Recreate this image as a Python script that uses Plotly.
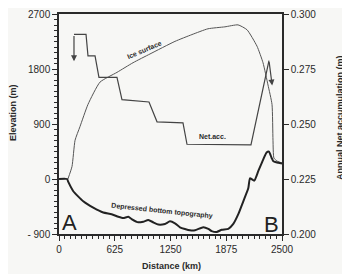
import plotly.graph_objects as go

# Ice surface (distance km, elevation m)
ice_x = [100, 146, 180, 235, 325, 460, 650, 830, 1020, 1300, 1490, 1670, 1860, 2007, 2108, 2220, 2287, 2343, 2388, 2399, 2410, 2450, 2500]
ice_y = [0, 206, 634, 856, 1221, 1586, 1745, 1903, 2046, 2252, 2363, 2458, 2490, 2522, 2442, 2173, 1903, 1538, 1221, 634, 340, 290, 262]

# Depressed bottom topography (distance km, elevation m)
bed_x = [0, 90, 104, 160, 272, 384, 496, 590, 665, 720, 777, 814, 889, 945, 1001, 1057, 1113, 1188, 1244, 1300, 1356, 1468, 1525, 1618, 1674, 1711, 1768, 1824, 1898, 1954, 2010, 2066, 2122, 2141, 2189, 2235, 2289, 2327, 2354, 2384, 2403, 2459, 2500]
bed_y = [0, 0, -48, -200, -365, -470, -549, -576, -618, -640, -618, -655, -709, -698, -672, -709, -745, -735, -693, -725, -790, -840, -840, -788, -815, -852, -868, -830, -815, -735, -576, -365, -153, 11, -27, 132, 317, 433, 449, 344, 290, 265, 254]

# Annual net accumulation (distance km, m)
acc_x = [168, 303, 325, 404, 448, 650, 706, 1009, 1099, 1390, 1435, 2152, 2354]
acc_y = [0.2907, 0.2907, 0.281, 0.281, 0.2712, 0.2712, 0.2611, 0.260, 0.251, 0.2505, 0.2408, 0.2405, 0.2788]
arrow_left = (168, 0.2907, 168, 0.2785)
arrow_right = (2354, 0.2788, 2390, 0.2675)

x_ticks = [0, 625, 1250, 1875, 2500]
x_ticktext = ["0", "625", "1250", "1875", "2500"]
y_ticks = [-900, 0, 900, 1800, 2700]
y_ticktext = ["- 900", "0", "900", "1800", "2700"]
y2_ticks = [0.200, 0.225, 0.250, 0.275, 0.300]
y2_ticktext = ["0.200", "0.225", "0.250", "0.275", "0.300"]

INK = "#2a2a2a"
BG = "#f7f7f5"
FONT = "Liberation Sans"

fig = go.Figure()
fig.add_trace(go.Scatter(x=ice_x, y=ice_y, mode="lines", line=dict(color="#555555", width=1, shape="spline", smoothing=0.5), hoverinfo="skip"))
fig.add_trace(go.Scatter(x=bed_x, y=bed_y, mode="lines", line=dict(color="#222222", width=2, shape="spline", smoothing=0.5), hoverinfo="skip"))
fig.add_trace(go.Scatter(x=acc_x, y=acc_y, mode="lines", yaxis="y2", line=dict(color="#444444", width=1.2), hoverinfo="skip"))

anns = []
for (x0, y0, x1, y1) in [arrow_left, arrow_right]:
    anns.append(dict(x=x1, y=y1, ax=x0, ay=y0, xref="x", yref="y2", axref="x", ayref="y2",
                     showarrow=True, arrowhead=2, arrowsize=1, arrowwidth=1.2, arrowcolor="#444444", text=""))

anns += [
    dict(x=964, y=2117, xref="x", yref="y", text="<b>Ice surface</b>", textangle=-23, showarrow=False,
         font=dict(family=FONT, size=7, color=INK)),
    dict(x=1726, y=700, xref="x", yref="y", text="<b>Net.acc.</b>", showarrow=False,
         font=dict(family=FONT, size=7, color=INK)),
    dict(x=1160, y=-531, xref="x", yref="y", text="<b>Depressed bottom topography</b>", textangle=6, showarrow=False,
         font=dict(family=FONT, size=7, color=INK)),
    dict(x=123, y=-714, xref="x", yref="y", text="A", showarrow=False,
         font=dict(family=FONT, size=22, color="#222222")),
    dict(x=2377, y=-745, xref="x", yref="y", text="B", showarrow=False,
         font=dict(family=FONT, size=22, color="#222222")),
    dict(x=13, y=113, xref="paper", yref="paper", text="<b>Elevation (m)</b>", textangle=-90, showarrow=False,
         font=dict(family=FONT, size=9, color=INK)),
    dict(x=340, y=118, xref="paper", yref="paper", text="<b>Annual Net accumulation (m)</b>", textangle=-90, showarrow=False,
         font=dict(family=FONT, size=9, color=INK)),
    dict(x=171, y=266, xref="paper", yref="paper", text="<b>Distance (km)</b>", showarrow=False,
         font=dict(family=FONT, size=9, color=INK)),
]

# page offset of the plot div (default body margin)
OFF = 8
W, H = 350 - OFF, 274 - OFF
L, T = 59 - OFF, 14 - OFF
PW, PH = 223, 220
R = W - L - PW
B = H - T - PH
for a in anns:
    if a.get("xref") == "paper":
        a["x"] = (a["x"] - OFF - L) / PW
        a["y"] = (T + PH - (a["y"] - OFF)) / PH
        a["xanchor"] = "center"
        a["yanchor"] = "middle"

fig.update_layout(
    width=W, height=H,
    margin=dict(l=L, r=R, t=T, b=B, autoexpand=False),
    paper_bgcolor=BG, plot_bgcolor=BG,
    showlegend=False,
    font=dict(family=FONT, size=10, color=INK),
    annotations=anns,
    xaxis=dict(range=[0, 2500], tickvals=x_ticks, ticktext=x_ticktext, showgrid=False, zeroline=False,
               automargin=False, ticklabeloverflow="allow",
               showline=True, linecolor=INK, linewidth=1.5, mirror=True,
               ticks="outside", ticklen=5, tickcolor=INK,
               minor=dict(dtick=62.5, ticks="outside", ticklen=3, tickcolor=INK),
               tickfont=dict(family=FONT, size=10, color=INK)),
    yaxis=dict(range=[-900, 2700], tickvals=y_ticks, ticktext=y_ticktext, showgrid=False, zeroline=False,
               automargin=False, ticklabeloverflow="allow",
               showline=True, linecolor=INK, linewidth=1.5,
               ticks="outside", ticklen=5, tickcolor=INK,
               minor=dict(dtick=90, ticks="outside", ticklen=3, tickcolor=INK),
               tickfont=dict(family=FONT, size=10, color=INK)),
    yaxis2=dict(range=[0.2, 0.3], overlaying="y", side="right", tickvals=y2_ticks, ticktext=y2_ticktext,
                automargin=False, ticklabeloverflow="allow",
                showgrid=False, zeroline=False, showline=True, linecolor=INK, linewidth=1.5,
                ticks="outside", ticklen=5, tickcolor=INK,
                tickfont=dict(family=FONT, size=10, color=INK)),
)

fig.write_html("out.html")
